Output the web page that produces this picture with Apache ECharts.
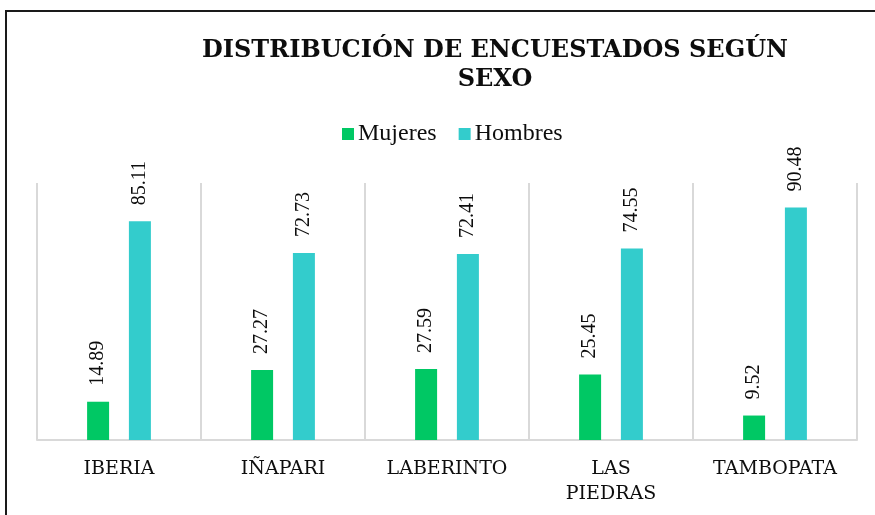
<!DOCTYPE html>
<html>
<head>
<meta charset="utf-8">
<script src="https://cdn.jsdelivr.net/npm/echarts@6/dist/echarts.min.js"></script>
<style>
    html, body { margin: 0; padding: 0; background: #ffffff; }
    .frame {
        position: absolute;
        left: 5px;
        top: 10px;
        width: 900px;
        height: 540px;
        border: 2px solid #1a1a1a;
        box-sizing: border-box;
    }
    #chart { position: absolute; left: 0; top: 0; width: 875px; height: 515px; }
</style>
</head>
<body>
<div class="frame"></div>
<div id="chart"></div>
<script>
// categorías y valores (%)
const categorias = ['IBERIA', 'IÑAPARI', 'LABERINTO', 'LAS PIEDRAS', 'TAMBOPATA'];
const mujeres = [14.89, 27.27, 27.59, 25.45, 9.52];
const hombres = [85.11, 72.73, 72.41, 74.55, 90.48];

const serif = '"Liberation Serif", "DejaVu Serif", serif';
const wideSerif = '"DejaVu Serif", "Liberation Serif", serif';

let chart = echarts.init(document.getElementById('chart'));
let option = {
    backgroundColor: 'transparent',
    title: {
        text: 'DISTRIBUCIÓN DE ENCUESTADOS SEGÚN\nSEXO',
        left: 490,
        top: 31,
        textAlign: 'center',
        textStyle: {
            fontFamily: wideSerif,
            fontWeight: 'bold',
            fontSize: 24,
            lineHeight: 29,
            color: '#0d0d0d'
        }
    },
    legend: {
        data: ['Mujeres', 'Hombres'],
        top: 117,
        left: 337,
        itemWidth: 12,
        itemHeight: 12,
        itemGap: 22,
        icon: 'rect',
        textStyle: {
            fontFamily: serif,
            fontSize: 24,
            color: '#0d0d0d',
            padding: [0, 0, 0, -1]
        }
    },
    grid: {
        left: 37,
        right: 18,
        top: 183,
        bottom: 75
    },
    xAxis: {
        type: 'category',
        data: categorias,
        axisTick: { show: false },
        axisLine: { lineStyle: { color: '#d9d9d9', width: 2 } },
        splitLine: { show: true, lineStyle: { color: '#d9d9d9', width: 2 } },
        axisLabel: {
            interval: 0,
            margin: 17,
            fontFamily: wideSerif,
            fontSize: 19,
            lineHeight: 25,
            color: '#0d0d0d',
            formatter: function (v) {
                return v.replace(' ', '\n');
            }
        }
    },
    yAxis: {
        type: 'value',
        min: 0,
        max: 100,
        show: false,
        splitLine: { show: false }
    },
    series: [{
        name: 'Mujeres',
        type: 'bar',
        data: mujeres,
        barWidth: 22,
        barGap: '90%',
        color: '#00c864',
        label: {
            show: true,
            position: 'top',
            rotate: 90,
            align: 'left',
            verticalAlign: 'middle',
            distance: 16,
            fontFamily: serif,
            fontSize: 20,
            color: '#0d0d0d',
            formatter: function (p) { return p.value.toFixed(2); }
        }
    }, {
        name: 'Hombres',
        type: 'bar',
        data: hombres,
        barWidth: 22,
        color: '#33cccc',
        label: {
            show: true,
            position: 'top',
            rotate: 90,
            align: 'left',
            verticalAlign: 'middle',
            distance: 16,
            fontFamily: serif,
            fontSize: 20,
            color: '#0d0d0d',
            formatter: function (p) { return p.value.toFixed(2); }
        }
    }]
};
chart.setOption(option);
</script>
</body>
</html>
